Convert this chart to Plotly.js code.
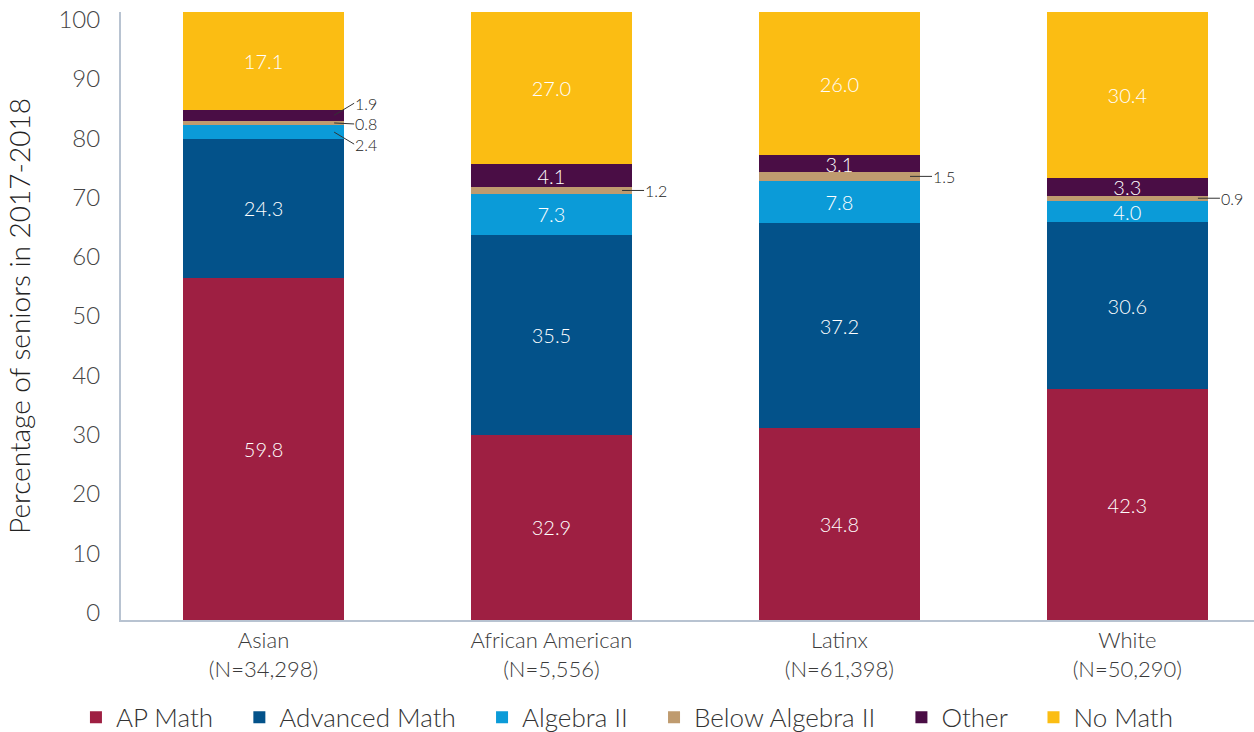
<!DOCTYPE html>
<html>
<head>
<meta charset="utf-8">
<script src="https://cdn.plot.ly/plotly-3.0.1.min.js"></script>
<style>html,body{margin:0;padding:0;background:#fff;}#chart{width:1254px;height:732px;}</style>
</head>
<body>
<div id="chart"></div>
<script>
// ---- data ----
const categories = ['Asian', 'African American', 'Latinx', 'White'];
const sampleSizes = ['(N=34,298)', '(N=5,556)', '(N=61,398)', '(N=50,290)'];
const seriesNames = ['AP Math', 'Advanced Math', 'Algebra II', 'Below Algebra II', 'Other', 'No Math'];
const apMath = [59.8, 32.9, 34.8, 42.3];
const advancedMath = [24.3, 35.5, 37.2, 30.6];
const algebraII = [2.4, 7.3, 7.8, 4.0];
const belowAlgebraII = [0.8, 1.2, 1.5, 0.9];
const other = [1.9, 4.1, 3.1, 3.3];
const noMath = [17.1, 27.0, 26.0, 30.4];
const yTickValues = [0, 10, 20, 30, 40, 50, 60, 70, 80, 90, 100];

// ---- style ----
const colors = ['#9e1f42', '#03528a', '#0b9bd8', '#bf9b6f', '#4a0d45', '#fbbd13'];
const FONT = 'Lato, "Open Sans", sans-serif';
const outsideThreshold = 2.5; // segments smaller than this get leader-line labels
const leaderOffsets = { '0-4': -12, '0-3': 1, '0-2': 12 }; // px vertical offsets of leader labels
const tickLabelSqueeze = 0.975; // reference tick labels sit slightly toward the centre
const bargap = 0.44;
const legendPad = '\u00a0\u00a0\u00a0';

const allSeries = [apMath, advancedMath, algebraII, belowAlgebraII, other, noMath];

const traces = allSeries.map((vals, s) => ({
  type: 'bar',
  name: seriesNames[s] + (s < seriesNames.length - 1 ? legendPad : ''),
  x: categories,
  y: vals,
  marker: { color: colors[s], line: { width: 0 } },
  text: vals.map(v => v < outsideThreshold ? '' : v.toFixed(1)),
  textposition: 'inside',
  insidetextanchor: 'middle',
  textangle: 0,
  constraintext: 'none',
  textfont: { family: FONT, size: 20, color: '#ffffff', weight: 300 },
  hoverinfo: 'skip'
}));

// leader-line annotations for small segments
const annotations = [];
const half = (1 - bargap) / 2;
categories.forEach((c, i) => {
  const total = allSeries.reduce((a, arr) => a + arr[i], 0);
  let cum = 0;
  allSeries.forEach((arr, s) => {
    const v = arr[i];
    if (v < outsideThreshold) {
      const mid = (cum + v / 2) / total * 100;
      const key = i + '-' + s;
      annotations.push({
        x: i + half, y: mid, xref: 'x', yref: 'y',
        xshift: -10,
        text: v.toFixed(1),
        showarrow: true, arrowhead: 0, arrowwidth: 1, arrowcolor: '#333',
        ax: i === 0 ? 20 : 22,
        ay: leaderOffsets[key] !== undefined ? leaderOffsets[key] : 0,
        xanchor: 'left', yanchor: 'middle',
        standoff: 0, startstandoff: 0, borderpad: 0,
        font: { family: FONT, size: 16, color: '#222' }
      });
    }
    cum += v;
  });
});

const layout = {
  width: 1254, height: 732,
  margin: { l: 121, r: 0, t: 12, b: 112, pad: 0, autoexpand: false },
  paper_bgcolor: '#fff', plot_bgcolor: '#fff',
  font: { family: FONT, color: '#333', weight: 300 },
  barmode: 'stack',
  barnorm: 'percent',
  bargap: bargap,
  showlegend: true,
  legend: {
    orientation: 'h', x: 0.447, xanchor: 'center', y: -0.16, yanchor: 'middle',
    font: { family: FONT, size: 26, color: '#333', weight: 300 },
    traceorder: 'normal', itemclick: false, itemwidth: 30
  },
  xaxis: {
    type: 'category',
    range: [-0.495, 3.44],
    tickvals: categories,
    ticktext: categories.map((c, i) => c + '<br>' + sampleSizes[i]),
    tickfont: { family: FONT, size: 22, color: '#3a3a3a', weight: 300 },
    showline: true, linecolor: '#b8c3d1', linewidth: 2,
    ticks: '', showgrid: false, zeroline: false, fixedrange: true,
    automargin: false
  },
  yaxis: {
    range: [0, 100],
    tickmode: 'array',
    tickvals: yTickValues.map(v => 50 + (v - 50) * tickLabelSqueeze),
    ticktext: yTickValues.map(String),
    tickfont: { family: FONT, size: 24, color: '#444', weight: 300 },
    showline: true, linecolor: '#b8c3d1', linewidth: 2,
    ticks: '', showgrid: false, zeroline: false,
    ticklabelstandoff: 14,
    automargin: false,
    title: { text: 'Percentage of seniors in 2017-2018', font: { family: FONT, size: 28, color: '#222', weight: 300 }, standoff: 20 }
  },
  annotations: annotations
};

Plotly.newPlot('chart', traces, layout, { displayModeBar: false, staticPlot: true });
</script>
</body>
</html>
